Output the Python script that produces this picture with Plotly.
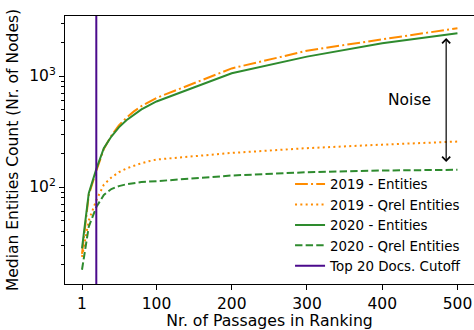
import math
import plotly.graph_objects as go

passages = [1, 10, 20, 30, 40, 50, 60, 70, 80, 90, 100, 200, 300, 400, 500]
ent_2019 = [25, 85, 140, 220, 290, 360, 420, 480, 535, 585, 635, 1170, 1690, 2140, 2690]
qrel_2019 = [23.5, 50, 76, 105, 122, 136, 147, 156, 164, 171, 177, 203, 224, 241, 257]
ent_2020 = [28, 88, 145, 224, 285, 345, 400, 450, 500, 545, 590, 1057, 1494, 1972, 2426]
qrel_2020 = [18, 44, 66, 85, 96, 102, 106, 109, 111, 112, 113, 127, 136, 141, 143]
cutoff = 20
noise_x = 485
noise_low, noise_high = 163, 2200
noise_label_pos = (436, 608)
x_ticks = [1, 100, 200, 300, 400, 500]

ORANGE = "#ff8c00"
GREEN = "#2e8b2e"
PURPLE = "#4b0a8c"
FONT = "DejaVu Sans"

fig = go.Figure()
series = [
    ("2019 - Entities", ent_2019, ORANGE, "12.8px,3.2px,2px,3.2px"),
    ("2019 - Qrel Entities", qrel_2019, ORANGE, "2px,3.3px"),
    ("2020 - Entities", ent_2020, GREEN, "solid"),
    ("2020 - Qrel Entities", qrel_2020, GREEN, "7.4px,3.2px"),
]
for name, vals, col, dash in series:
    fig.add_trace(go.Scatter(x=passages, y=vals, mode="lines", name=name,
                             line=dict(color=col, width=2, dash=dash)))

fig.add_shape(type="line", x0=cutoff, x1=cutoff, xref="x", yref="paper", y0=0, y1=1,
              line=dict(color=PURPLE, width=2), showlegend=True,
              name="Top 20 Docs. Cutoff")

fig.add_annotation(x=noise_x, y=math.log10(noise_high), ax=noise_x, ay=math.log10(noise_low),
                   xref="x", yref="y", axref="x", ayref="y", text="", showarrow=True,
                   arrowhead=4, startarrowhead=4, arrowside="end+start",
                   arrowsize=1.3, startarrowsize=1.3, arrowwidth=1.2, arrowcolor="black")
fig.add_annotation(x=noise_label_pos[0], y=math.log10(noise_label_pos[1]), xref="x", yref="y",
                   text="Noise", showarrow=False, font=dict(size=15.5, color="black", family=FONT))

minor_vals = [m * 10 ** e for e in (1, 2, 3) for m in range(2, 10)]
fig.update_layout(
    width=474, height=330,
    margin=dict(l=65, r=0, t=16, b=46),
    plot_bgcolor="white", paper_bgcolor="white",
    font=dict(family=FONT, size=15.5, color="black"),
    showlegend=True,
    legend=dict(x=0.983, xanchor="right", y=0.008, yanchor="bottom",
                bgcolor="rgba(0,0,0,0)", font=dict(size=13.4),
                itemwidth=30, tracegroupgap=0),
    xaxis=dict(range=[-21.6, 522], tickvals=x_ticks, showgrid=False, zeroline=False,
               showline=True, mirror=True, linecolor="black", linewidth=1,
               ticks="outside", ticklen=5, tickcolor="black",
               title=dict(text="Nr. of Passages in Ranking", standoff=3, font=dict(size=15.7))),
    yaxis=dict(type="log", range=[math.log10(13.4), math.log10(3470)],
               tickvals=[100, 1000], ticktext=["10<sup>2</sup>", "10<sup>3</sup>"],
               showgrid=False, zeroline=False, showline=True, mirror=True,
               linecolor="black", linewidth=1, ticks="outside", ticklen=5, tickcolor="black",
               minor=dict(tickvals=minor_vals, ticks="outside", ticklen=3, tickcolor="black", showgrid=False),
               title=dict(text="Median Entities Count (Nr. of Nodes)", standoff=6, font=dict(size=15.5))),
)

fig.write_html("out.html", config={"displayModeBar": False},
               post_script="document.body.style.margin='0';document.body.style.padding='0';")
